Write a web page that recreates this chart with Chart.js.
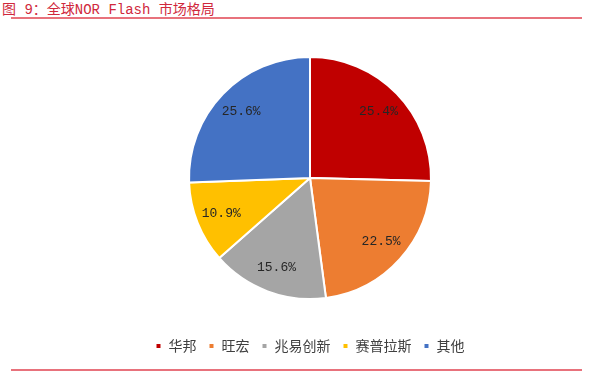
<!DOCTYPE html>
<html>
<head>
<meta charset="utf-8">
<script src="https://cdn.jsdelivr.net/npm/chart.js@4"></script>
<style>
    html, body { margin: 0; padding: 0; background: #fff; }
    body { width: 600px; height: 375px; position: relative; overflow: hidden; }
    .title {
        position: absolute; left: 2px; top: -2px;
        font: 14px "Liberation Mono", "Noto Sans CJK SC", monospace;
        color: #d0283c; white-space: nowrap;
    }
    .rule { position: absolute; left: 11px; width: 571px; height: 2px; background: #e8727c; }
    .chart-box { position: absolute; left: 0; top: 0; width: 600px; height: 375px; }
</style>
</head>
<body>
<div class="title">图 9：全球NOR Flash 市场格局</div>
<div class="rule" style="top:17px"></div>
<div class="rule" style="top:369px"></div>
<div class="chart-box"><canvas id="pieChart"></canvas></div>
<script>
// Market share data
const vendors = ['华邦', '旺宏', '兆易创新', '赛普拉斯', '其他'];
const shares = [25.4, 22.5, 15.6, 10.9, 25.6];
const sliceColors = ['#C00000', '#ED7D31', '#A5A5A5', '#FFC000', '#4472C4'];

// Draw the percentage labels inside each slice
const sliceLabels = {
    id: 'sliceLabels',
    afterDatasetsDraw(chart) {
        const ctx = chart.ctx;
        const meta = chart.getDatasetMeta(0);
        ctx.save();
        ctx.font = '13px "Liberation Mono", monospace';
        ctx.fillStyle = '#262626';
        ctx.textAlign = 'center';
        ctx.textBaseline = 'middle';
        meta.data.forEach((arc, i) => {
            const p = arc.getProps(['x', 'y', 'startAngle', 'endAngle', 'outerRadius'], true);
            const mid = (p.startAngle + p.endAngle) / 2;
            const r = p.outerRadius * 0.79;
            ctx.fillText(shares[i].toFixed(1) + '%', p.x + Math.cos(mid) * r, p.y + Math.sin(mid) * r);
        });
        ctx.restore();
    }
};

new Chart(document.getElementById('pieChart'), {
    type: 'pie',
    data: {
        labels: vendors,
        datasets: [{
            data: shares,
            backgroundColor: sliceColors,
            borderColor: '#ffffff',
            borderWidth: 2,
            radius: 121
        }]
    },
    options: {
        responsive: true,
        maintainAspectRatio: false,
        animation: false,
        layout: { padding: { left: 20, right: 0, top: 29, bottom: 12 } },
        plugins: {
            tooltip: { enabled: false },
            legend: {
                position: 'bottom',
                labels: {
                    boxWidth: 6,
                    boxHeight: 6,
                    padding: 12,
                    color: '#404040',
                    font: { size: 14, family: '"Noto Sans CJK SC", sans-serif' }
                }
            }
        }
    },
    plugins: [sliceLabels]
});
</script>
</body>
</html>
